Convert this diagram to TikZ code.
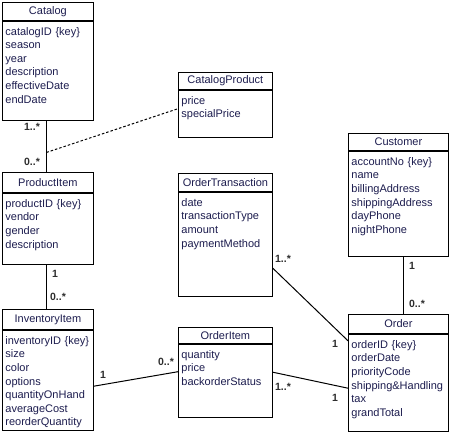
\documentclass[tikz,border=0pt]{standalone}
\usepackage{fontspec}
\setmainfont{Liberation Sans}
\usetikzlibrary{positioning}
\definecolor{umltext}{RGB}{28,28,78}
\definecolor{multtext}{RGB}{45,45,45}
\tikzset{
  classhead/.style={draw, line width=0.8pt, anchor=north west, minimum width=#1,
    minimum height=18pt, inner sep=0pt, text=umltext},
  classbody/.style 2 args={draw, line width=0.8pt, text width=#1, align=left,
    inner xsep=3pt, inner ysep=0pt, text height=14pt, text depth=#2, text=umltext},
  assoc/.style={line width=1pt},
  mult/.style={font=\fontsize{10.5}{12}\selectfont\bfseries, text=multtext, inner sep=0pt}
}
\begin{document}
\begin{tikzpicture}[x=1pt, y=-1pt, font=\fontsize{11}{13.6}\selectfont]
\useasboundingbox (0,0) rectangle (452,433);
% classes
\node[classhead=91pt] (catalog) at (2,2) {Catalog};
\node[classbody={85pt}{85pt}, below=0pt of catalog] (catalogbody)
  {catalogID \{key\}\\season\\year\\description\\effectiveDate\\endDate};
\node[classhead=94pt, minimum height=17pt] (cp) at (178,72) {CatalogProduct};
\node[classbody={88pt}{33pt}, below=0pt of cp] (cpbody) {price\\specialPrice};
\node[classhead=91pt, minimum height=20pt] (productitem) at (2,172) {ProductItem};
\node[classbody={85pt}{57pt}, below=0pt of productitem] (pibody)
  {productID \{key\}\\vendor\\gender\\description};
\node[classhead=91pt, minimum height=20pt] (inventoryitem) at (2,309) {InventoryItem};
\node[classbody={85pt}{86pt}, below=0pt of inventoryitem] (iibody)
  {inventoryID \{key\}\\size\\color\\options\\quantityOnHand\\averageCost\\reorderQuantity};
\node[classhead=94pt] (ordertrans) at (178,173) {OrderTransaction};
\node[classbody={88pt}{90pt}, below=0pt of ordertrans] (otbody)
  {date\\transactionType\\amount\\paymentMethod};
\node[classhead=94pt, minimum height=16pt] (orderitem) at (178,327) {OrderItem};
\node[classbody={88pt}{59pt}, below=0pt of orderitem] (oibody)
  {quantity\\price\\backorderStatus};
\node[classhead=100pt, minimum height=17pt] (customer) at (348,133) {Customer};
\node[classbody={94pt}{91pt}, below=0pt of customer] (custbody)
  {accountNo \{key\}\\name\\billingAddress\\shippingAddress\\dayPhone\\nightPhone};
\node[classhead=100pt, minimum height=19pt] (order) at (348,314) {Order};
\node[classbody={94pt}{83pt}, below=0pt of order] (orderbody)
  {orderID \{key\}\\orderDate\\priorityCode\\shipping\&Handling\\tax\\grandTotal};

% associations
\draw[assoc] ([xshift=-1.5pt]catalogbody.south) -- coordinate[pos=0.62] (catjoin) ([xshift=-1.5pt]productitem.north);
\draw[line width=1pt, dash pattern=on 2.5pt off 2pt] (catjoin) -- ([yshift=5pt]cpbody.west);
\draw[assoc] ([xshift=-1.5pt]pibody.south) -- ([xshift=-1.5pt]inventoryitem.north);
\draw[assoc] ([yshift=-6pt]iibody.east) -- ([yshift=9pt]oibody.west);
\draw[assoc] ([yshift=8.5pt]oibody.east) -- ([yshift=-5.5pt]orderbody.west);
\draw[assoc] ([yshift=-24pt]otbody.east) -- ([yshift=-7pt]orderbody.north west);
\draw[assoc] ([xshift=5pt]custbody.south) -- ([xshift=5pt]order.north);

% multiplicities
\node[mult] (m1) at (32,127) {1..*};
\node[mult] (m2) at (32,162) {0..*};
\node[mult] (m3) at (55,274) {1};
\node[mult] (m4) at (58,297) {0..*};
\node[mult] (m5) at (103,375) {1};
\node[mult] (m6) at (166,362) {0..*};
\node[mult] (m7) at (283,259) {1..*};
\node[mult] (m8) at (335,344) {1};
\node[mult] (m9) at (283,387) {1..*};
\node[mult] (m10) at (335,398) {1};
\node[mult] (m11) at (412,266) {1};
\node[mult] (m12) at (417,304) {0..*};
\end{tikzpicture}
\end{document}
